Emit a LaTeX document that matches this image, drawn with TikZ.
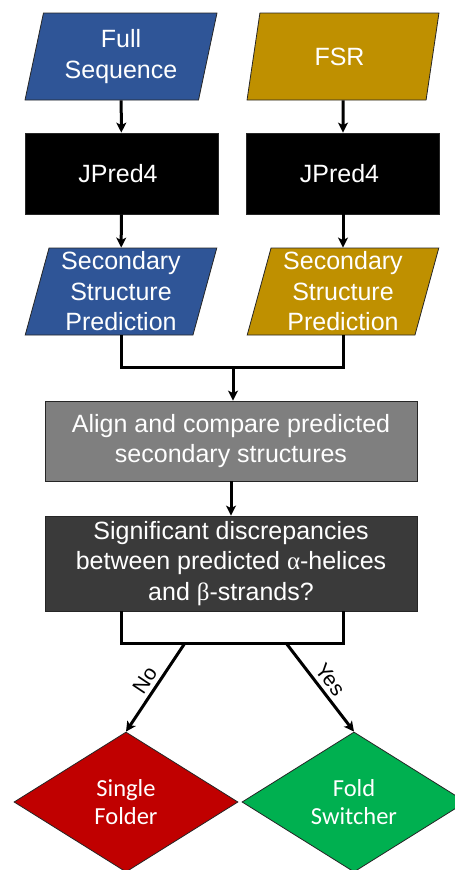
\documentclass[tikz,border=0pt]{standalone}
\usepackage{amsmath,amssymb,amsfonts}
\usepackage{fontspec}
\setmainfont{Liberation Sans}
\newfontfamily\calibfont{Carlito}
\newfontfamily\symbfont{Liberation Serif}
\usetikzlibrary{shapes.geometric,arrows.meta}

\definecolor{seqblue}{HTML}{2F5597}
\definecolor{fsrgold}{HTML}{BF9000}
\definecolor{aligngray}{HTML}{7F7F7F}
\definecolor{discgray}{HTML}{3A3A3A}
\definecolor{singlered}{HTML}{C00000}
\definecolor{switchgreen}{HTML}{00B050}

\begin{document}
\begin{tikzpicture}[ >={Stealth[length=10pt, width=10pt, inset=2.5pt]}, x=1pt, y=1pt,
	box/.style={draw=black!85, line width=0.8pt, text=white, align=center, inner sep=0pt,
		font=\fontsize{25}{30.5}\selectfont},
	para/.style={box, trapezium, trapezium left angle=76, trapezium right angle=104,
		trapezium stretches=true, minimum width=192pt, minimum height=87pt},
	rect/.style={box, rectangle, minimum width=193pt, minimum height=81pt},
	wide/.style={box, rectangle, minimum width=372pt},
	leaf/.style={box, diamond, aspect=1.6, minimum width=224pt, minimum height=140pt,
		font=\calibfont\fontsize{24.5}{28.5}\selectfont},
	flow/.style={->, line width=3pt},
	link/.style={line width=3pt},
	ans/.style={font=\fontsize{21}{21}\selectfont, sloped, above, inner sep=4pt}
	]

    \useasboundingbox (0 , 0) rectangle (455 , -870);

% Dữ liệu vào

    \node[para, fill=seqblue] (full) at (121 , -56.5) { Full\\Sequence };
    \node[para, fill=fsrgold] (fsr) at (343 , -56.5) { FSR };

% JPred4

    \node[rect, fill=black] (jp1) at (121.5 , -173.5) { JPred4 };
    \node[rect, fill=black] (jp2) at (343 , -173.5) { JPred4 };

% Dự đoán cấu trúc

    \node[para, fill=seqblue] (ss1) at (121 , -291.5) { Secondary\\Structure\\Prediction };
    \node[para, fill=fsrgold] (ss2) at (343 , -291.5) { Secondary\\Structure\\Prediction };

% So sánh

    \node[wide, fill=aligngray, minimum height=80pt] (align) at (231 , -441)
        { Align and compare predicted\\secondary structures };
    \node[wide, fill=discgray, minimum height=95pt] (disc) at (231 , -563.5)
        { Significant discrepancies\\between predicted {\symbfont α}-helices\\and {\symbfont β}-strands? };

% Kết quả

    \node[leaf, fill=singlered] (sf) at (126 , -802) { Single\\Folder };
    \node[leaf, fill=switchgreen] (fs) at (354 , -802) { Fold\\Switcher };

% Mũi tên

    \draw[flow] (full) -- (jp1);
    \draw[flow] (fsr) -- (jp2);
    \draw[flow] (jp1) -- (ss1);
    \draw[flow] (jp2) -- (ss2);

    \coordinate (merge) at (233 , -367);
    \draw[link] (ss1.south) |- (merge) -| (ss2.south);
    \draw[flow] (merge) -- (merge |- align.north);
    \draw[flow] (align) -- (disc);

    \coordinate (split) at (231 , -643);
    \draw[link] (disc.south -| ss1.south) |- (split) -| (disc.south -| ss2.south);

    \coordinate (noend) at (185 , -643);
    \coordinate (yesend) at (286 , -643);
    \draw[flow] (noend) -- node[ans] { No } (sf.north);
    \draw[flow] (yesend) -- node[ans] { Yes } (fs.north);

\end{tikzpicture}
\end{document}
